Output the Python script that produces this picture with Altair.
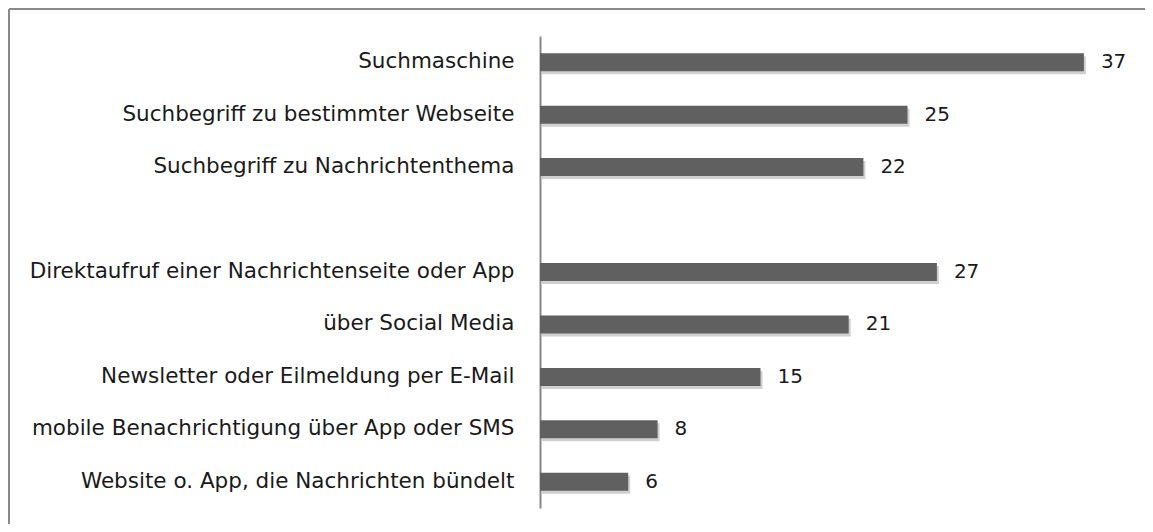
import altair as alt
import pandas as pd

categories = [
    "Suchmaschine",
    "Suchbegriff zu bestimmter Webseite",
    "Suchbegriff zu Nachrichtenthema",
    "Direktaufruf einer Nachrichtenseite oder App",
    "über Social Media",
    "Newsletter oder Eilmeldung per E-Mail",
    "mobile Benachrichtigung über App oder SMS",
    "Website o. App, die Nachrichten bündelt",
]
values = [37, 25, 22, 27, 21, 15, 8, 6]
gap = " "
domain = categories[:3] + [gap] + categories[3:]

df = pd.DataFrame({"cat": categories, "val": values})

PAD_L, PAD_T, PAD_R, PAD_B = 532, 28, 17, 16
W, H = 588, 472
FONT = "DejaVu Sans"

x = alt.X("val:Q", scale=alt.Scale(domain=[0, 40]), axis=None)
y = alt.Y(
    "cat:N",
    scale=alt.Scale(domain=domain),
    sort=domain,
    axis=alt.Axis(
        title=None, ticks=False, grid=False, labelPadding=26,
        labelFont=FONT, labelFontSize=21.5, labelColor="#1a1a1a",
        domainColor="#888888", domainWidth=2, labelLimit=600,
    ),
)

shadow = alt.Chart(df).mark_bar(
    size=18, color="#c4c4c4", xOffset=2, yOffset=3, opacity=0.8
).encode(x=x, y=y)

bars = alt.Chart(df).mark_bar(size=18, color="#606060").encode(x=x, y=y)

labels = alt.Chart(df).mark_text(
    align="left", baseline="middle", dx=17, font=FONT, fontSize=20, color="#1a1a1a"
).encode(x=x, y=y, text="val:Q")

frame_top = alt.Chart(pd.DataFrame({"a": [0]})).mark_rule(
    color="#8a8a8a", strokeWidth=2
).encode(x=alt.value(-PAD_L + 1), x2=alt.value(W + PAD_R), y=alt.value(-PAD_T + 1))

frame_left = alt.Chart(pd.DataFrame({"a": [0]})).mark_rule(
    color="#8a8a8a", strokeWidth=2
).encode(x=alt.value(-PAD_L + 1), y=alt.value(-PAD_T + 1), y2=alt.value(H + PAD_B))

chart = alt.layer(frame_top, frame_left, shadow, bars, labels).properties(
    width=W, height=H,
    background="white",
    autosize=alt.AutoSizeParams(type="none"),
    padding={"left": PAD_L, "top": PAD_T, "right": PAD_R, "bottom": PAD_B},
).configure_view(strokeWidth=0, stroke="transparent")

chart.save("out.html", embed_options={"renderer": "svg", "actions": False})
